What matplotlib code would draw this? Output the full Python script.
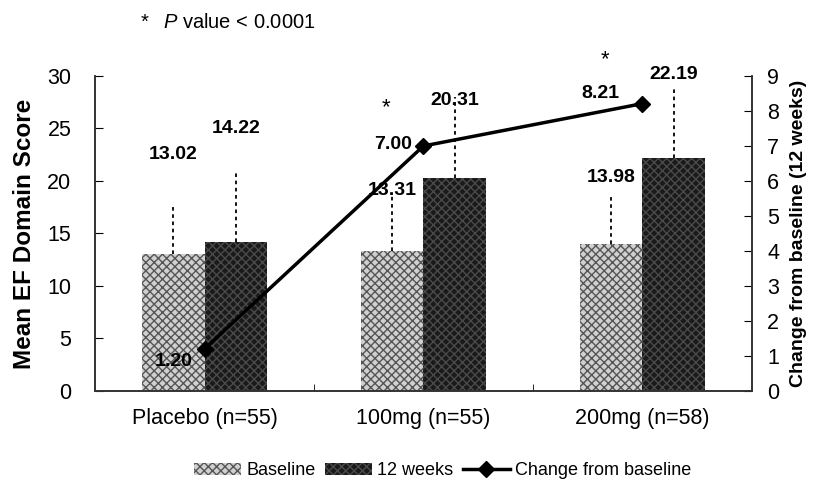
import matplotlib.pyplot as plt
import numpy as np

plt.rcParams['font.family'] = ['Liberation Sans', 'DejaVu Sans']
plt.rcParams['mathtext.fontset'] = 'custom'
plt.rcParams['mathtext.it'] = 'Liberation Sans:italic'
plt.rcParams['mathtext.rm'] = 'Liberation Sans'

groups = ['Placebo (n=55)', '100mg (n=55)', '200mg (n=58)']
baseline = [13.02, 13.31, 13.98]
baseline_sd = [4.7, 5.4, 4.7]
week12 = [14.22, 20.31, 22.19]
week12_sd = [6.7, 7.7, 6.7]
change = [1.20, 7.00, 8.21]
significant = [False, True, True]

# where the value labels sit (left axis units)
baseline_label_y = [22.5, 19.1, 20.3]
week12_label_y = [25.0, 27.7, 30.1]

fig = plt.figure(figsize=(8.2, 4.93), dpi=100)
ax = fig.add_axes([0.1159, 0.2069, 0.801, 0.639])
ax2 = ax.twinx()

x = np.arange(len(groups))
w = 0.285

b1 = ax.bar(x - w / 2, baseline, w, color='#d0d0d0', edgecolor='#555555',
            hatch='xxxx', linewidth=0, label='Baseline')
b2 = ax.bar(x + w / 2, week12, w, color='#1a1a1a', edgecolor='#4a4a4a',
            hatch='xxxx', linewidth=0, label='12 weeks')

ax.vlines(x - w / 2, baseline, np.add(baseline, baseline_sd), colors='black',
          linestyles=(0, (2, 2)), linewidth=1.3)
ax.vlines(x + w / 2, week12, np.add(week12, week12_sd), colors='black',
          linestyles=(0, (2, 2)), linewidth=1.3)

for i in range(len(groups)):
    ax.text(x[i] - w / 2, baseline_label_y[i], '%.2f' % baseline[i],
            ha='center', va='center', fontsize=14, fontweight='bold')
    ax.text(x[i] + w / 2, week12_label_y[i], '%.2f' % week12[i],
            ha='center', va='center', fontsize=14, fontweight='bold')

ln, = ax2.plot(x, change, color='black', linewidth=2.5, marker='D',
               markersize=8, label='Change from baseline')
for i in range(len(groups)):
    ax2.text(x[i] - (0.19 if i == 2 else 0.14),
             change[i] + (0.3 if i == 2 else 0.05) - (0.4 if i == 0 else 0),
             '%.2f' % change[i], ha='center', va='center',
             fontsize=14, fontweight='bold')
    if significant[i]:
        ax2.text(x[i] - 0.17, change[i] + (1.25 if i == 2 else 1.1), '*',
                 ha='center', va='center', fontsize=16)

ax.set_xlim(-0.5, 2.5)
ax.set_ylim(0, 30)
ax2.set_ylim(0, 9)
ax.set_yticks(np.arange(0, 31, 5))
ax2.set_yticks(np.arange(0, 10, 1))
ax.set_xticks(x)
ax.set_xticklabels(groups, fontsize=15.5)
ax.set_xticks([0.5, 1.5], minor=True)
ax.tick_params(axis='x', which='major', length=0, pad=12)
ax.tick_params(axis='x', which='minor', direction='in', length=5)
ax.tick_params(axis='y', direction='in', length=6, labelsize=15.5, pad=17)
ax2.tick_params(axis='y', direction='in', length=6, labelsize=15.5, pad=11)

for a in (ax, ax2):
    a.spines['top'].set_visible(False)
    for s in ('left', 'right', 'bottom'):
        a.spines[s].set_color('#333333')
        a.spines[s].set_linewidth(1.2)

ax.set_ylabel('Mean EF Domain Score', fontsize=17.5, fontweight='bold', labelpad=8)
ax2.set_ylabel('Change from baseline (12 weeks)', fontsize=14,
               fontweight='bold', labelpad=8)

fig.text(0.171, 0.955, '*', fontsize=14.5, va='center')
fig.text(0.199, 0.955, r'$\it{P}$ value < 0.0001', fontsize=14.5, va='center')

fig.legend(handles=[b1, b2, ln], loc='lower center', bbox_to_anchor=(0.54, -0.005),
           ncol=3, frameon=False, fontsize=13, handlelength=2.6,
           handleheight=0.7, columnspacing=0.5, handletextpad=0.3)

fig.savefig('out.png', dpi=100)
